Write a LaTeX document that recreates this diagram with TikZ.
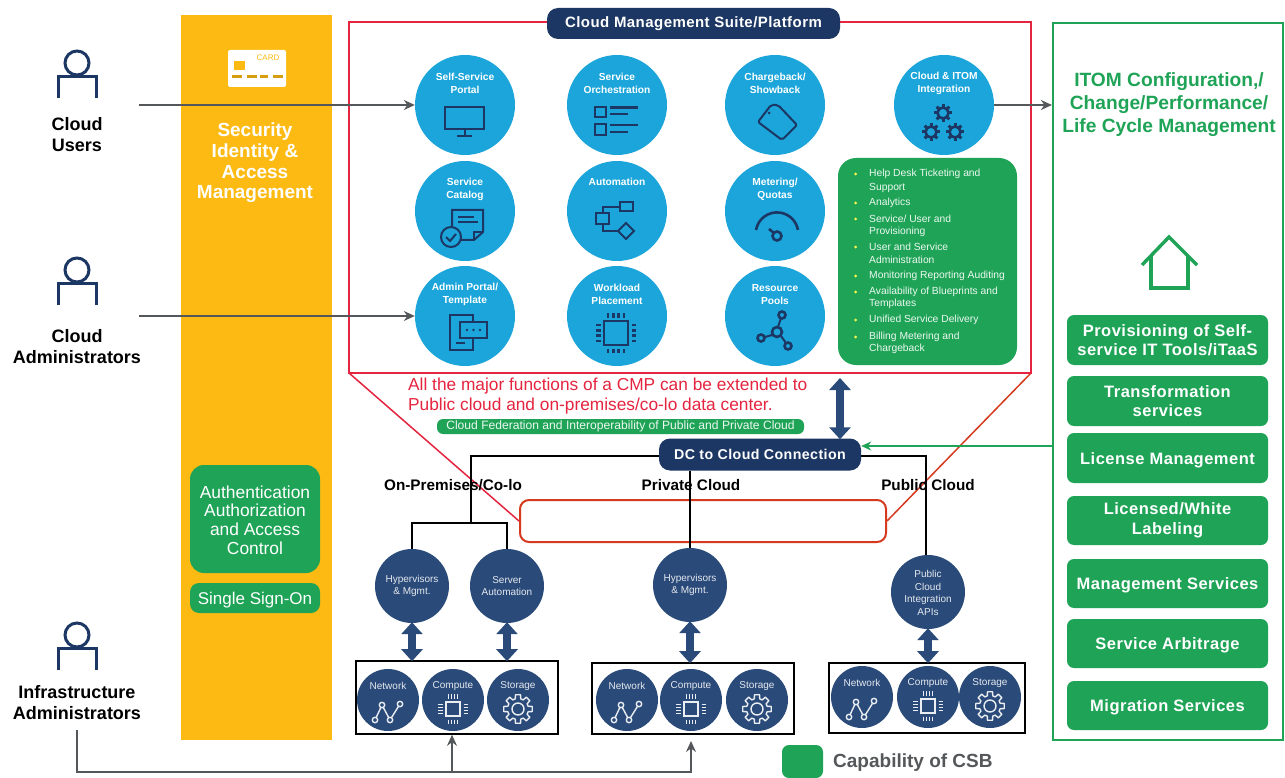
\documentclass[tikz,border=0pt]{standalone}
\usepackage{fontspec}
\setmainfont{Liberation Sans}
\newfontfamily\widefont[LetterSpace=3]{Liberation Sans}
\usetikzlibrary{arrows.meta,calc}
\definecolor{navy}{HTML}{1C3763}
\definecolor{steel}{HTML}{2A4A79}
\definecolor{skyc}{HTML}{1BA5DA}
\definecolor{csb}{HTML}{1FA457}
\definecolor{amber}{HTML}{FDBA12}
\definecolor{crim}{HTML}{E5243F}
\definecolor{brick}{HTML}{D63A1E}
\definecolor{grayl}{HTML}{55585A}
\newcommand{\fsz}[1]{\fontsize{#1}{#1}\selectfont}
\newcommand{\lowr}[1]{\raisebox{0pt}[12.5pt][0pt]{#1}}
\tikzset{
 svc/.style={circle,fill=skyc,inner sep=0pt,minimum size=100pt},
 svct/.style={text=white,font=\fsz{10.2}\bfseries,align=center,inner sep=0pt},
 dkt/.style={text=white!88!steel,font=\fsz{10},align=center,inner sep=0pt},
 ico/.style={draw=navy,line width=2pt,fill=none},
 icol/.style={draw=white!90!steel,line width=1.4pt,fill=none},
 gbox/.style={rounded corners=7pt,fill=csb,text=white,font=\widefont\fsz{16.5}\bfseries,align=center,inner sep=0pt,minimum width=201pt},
 actor/.style={font=\fsz{18}\bfseries,align=center,inner sep=0pt,text=black},
 graya/.style={draw=grayl,line width=1.3pt,-{Stealth[length=11pt,width=10pt]}},
 blk/.style={draw=black,line width=1.5pt},
 dbl/.style={draw=steel,line width=8pt,{Triangle[length=12pt,width=21pt]}-{Triangle[length=12pt,width=21pt]},shorten <=-1pt,shorten >=-1pt},
 rack/.style={draw=black,line width=1.6pt,fill=none,inner sep=0pt},
 lst/.style={anchor=west,text=white!92!csb,font=\fsz{10.3},inner sep=0pt},
}
\newcommand{\svcn}[4]{\node[svc] (#1) at (#2,#3) {}; \node[svct] (#1t) at (#2,#3-21.5) {#4};}
\newcommand{\person}[3]{\node[circle,draw=navy,line width=3pt,minimum size=24pt,inner sep=0pt] (#1) at (#2,#3) {};
 \draw[navy,line width=3pt] (#2-19,#3+35) -- (#2-19,#3+13.5) -- (#2+19,#3+13.5) -- (#2+19,#3+35);}
\newcommand{\gearf}[3]{\begin{scope}[shift={(#1,#2)}]
 \foreach \a in {0,45,...,315}{\draw[navy,line width=3pt] (\a:#3) -- (\a:#3+3.5);}
 \draw[navy,line width=2.6pt] (0,0) circle (#3);\end{scope}}
\newcommand{\gearo}[2]{\begin{scope}[shift={(#1,#2)}]
 \draw[icol,line join=round] (-10:14.5) \foreach \a in {0,45,...,315}{ -- (\a-10:14.5) -- (\a+10:14.5) -- (\a+15:10.5) -- (\a+30:10.5)} -- cycle;
 \draw[icol] (0,0) circle (6);\end{scope}}
\newcommand{\chip}[4]{\begin{scope}[shift={(#1,#2)}]
 \draw[#4] (-#3,-#3) rectangle (#3,#3);
 \foreach \k in {-0.66,-0.22,0.22,0.66}{
  \draw[#4] (\k*#3,-#3-3.5) -- (\k*#3,-#3-8);
  \draw[#4] (\k*#3, #3+3.5) -- (\k*#3, #3+8);
  \draw[#4] (-#3-3.5,\k*#3) -- (-#3-8,\k*#3);
  \draw[#4] ( #3+3.5,\k*#3) -- ( #3+8,\k*#3);}
 \end{scope}}
\newcommand{\netw}[2]{\begin{scope}[shift={(#1,#2)}]
 \draw[icol] (-13,10) -- (-6,-5) -- (2,10) -- (12,-6);
 \foreach \p in {(-13,10),(-6,-5),(2,10),(12,-6)}{\draw[icol,fill=steel] \p circle (2.7);}
 \end{scope}}
\newcommand{\trio}[5]{%
 \node[circle,fill=steel,inner sep=0pt,minimum width=62pt] (#1a) at (#2,#5) {};
 \node[circle,fill=steel,inner sep=0pt,minimum width=62pt] (#1b) at (#3,#5) {};
 \node[circle,fill=steel,inner sep=0pt,minimum width=62pt] (#1c) at (#4,#5) {};
 \node[dkt] (#1at) at (#2,#5-14) {Network};
 \node[dkt] (#1bt) at (#3,#5-14) {Compute};
 \node[dkt] (#1ct) at (#4,#5-14) {Storage};
 \netw{#2}{#5+10}
 \chip{#3}{#5+9}{7}{draw=white!90!steel,line width=1.1pt}
 \gearo{#4}{#5+9}
}
\begin{document}
\begin{tikzpicture}[x=1pt,y=-1pt]
\useasboundingbox (0,0) rectangle (1285,778);
\fill[white] (0,0) rectangle (1285,778);
% security column
\node[fill=amber,minimum width=151pt,minimum height=725pt,inner sep=0pt] (sec) at (256.5,377.5) {};
\node[fill=white,rounded corners=2pt,minimum width=58pt,minimum height=37pt,inner sep=0pt] (card) at (257,68.5) {};
\fill[amber] (234,61) rectangle (245,70);
\foreach \x/\w in {232/10,247/10,260/8,273/10}{\fill[amber!85!black] (\x,75.5) rectangle (\x+\w,78.5);}
\node[text=amber,font=\fsz{8},inner sep=0pt] (cardt) at (268,58) {CARD};
\node[text=white,font=\fsz{19}\bfseries,align=center,inner sep=0pt] (sect) at (255,163) {Security\\[1.7pt]Identity \&\\[1.7pt]Access\\[1.7pt]Management};
\node[fill=csb,rounded corners=14pt,minimum width=130pt,minimum height=108pt,inner sep=0pt,text=white,font=\fsz{17.4},align=center] (auth) at (255,519) {\raisebox{0pt}[15pt][0pt]{Authentication}\\[1.5pt]Authorization\\[1.5pt]and Access\\[1.5pt]Control};
\node[fill=csb,rounded corners=9pt,minimum width=130pt,minimum height=30pt,inner sep=0pt,text=white,font=\fsz{17}] (sso) at (255,598) {\raisebox{0pt}[12.5pt][0pt]{Single Sign-On}};
% red frame and funnel
\node[rounded corners=9pt,draw=brick,line width=2pt,minimum width=366pt,minimum height=42pt,inner sep=0pt] (ext) at (703,521) {};
\coordinate (fbl) at (349,373);
\coordinate (fbr) at (1031,373);
\draw[crim,line width=1.5pt] (fbl) -- (ext.west);
\draw[brick,line width=1.5pt] (fbr) -- (ext.east);
\node[draw=crim,line width=2pt,minimum width=682pt,minimum height=351pt,inner sep=0pt] (cmp) at (690,197.5) {};
\node[fill=navy,rounded corners=11pt,minimum width=293pt,minimum height=31pt,inner sep=0pt,text=white,font=\widefont\fsz{15}\bfseries] (cmpt) at (693.5,23.5) {Cloud Management Suite/Platform};
% service circles
\svcn{a1}{465}{105}{Self-Service\\[2.8pt]Portal}
\svcn{a2}{617}{105}{Service\\[2.8pt]Orchestration}
\svcn{a3}{775}{105}{Chargeback/\\[2.8pt]Showback}
\svcn{a4}{944}{105}{Cloud \& ITOM\\[2.8pt]Integration}
\svcn{b1}{465}{211}{Service\\[2.8pt]Catalog}
\node[svc] (b2) at (617,211) {}; \node[svct] (b2t) at (617,182) {Automation};
\svcn{b3}{775}{211}{Metering/\\[2.8pt]Quotas}
\svcn{c1}{465}{316}{Admin Portal/\\[2.8pt]Template}
\svcn{c2}{617}{316}{Workload\\[2.8pt]Placement}
\svcn{c3}{775}{316}{Resource\\[2.8pt]Pools}
% icons row 1
\draw[ico] (445,107) rectangle (484,129);
\draw[ico] (464.5,129) -- (464.5,136) (457,136) -- (472,136);
\draw[ico,line width=2.4pt] (595,107) rectangle (606,117) (595,124) rectangle (606,135);
\draw[ico,line width=2.2pt] (610,107.5) -- (638,107.5) (610,114) -- (628,114) (610,125) -- (638,125) (610,132) -- (628,132);
\draw[ico,rounded corners=2pt] (758,122) -- (771,105) -- (778,105) -- (797,125) -- (782,140) -- cycle;
\fill[navy] (769,113) circle (1.5);
\gearf{943}{113}{5.5}
\gearf{931}{132}{5.5}
\gearf{955}{132}{5.5}
% icons row 2
\draw[ico] (452,226) -- (452,210) -- (483,210) -- (483,232) -- (474,240) -- (461,240);
\draw[ico] (474,240) -- (474,232) -- (483,232);
\draw[ico] (458,217) -- (474,217) (458,222) -- (478,222);
\draw[ico,fill=skyc] (451,237) circle (10);
\draw[ico] (446,237) -- (450,241) -- (456,234);
\draw[ico] (620,202) rectangle (633,211);
\draw[ico] (596,213) rectangle (609,224);
\draw[ico] (603,213) -- (603,207) -- (620,207);
\draw[ico] (603,224) -- (603,231) -- (618,231);
\draw[ico] (626,223) -- (634,231) -- (626,239) -- (618,231) -- cycle;
\draw[ico,line width=2.6pt] (756,230) arc (190:350:21.3);
\draw[ico,line width=2.6pt] (769,229) -- (774,233);
\draw[ico,line width=2.6pt] (777,236) circle (4.5);
% icons row 3
\draw[ico] (473,322) -- (473,315) -- (450,315) -- (450,350) -- (473,350) -- (473,338);
\draw[ico] (456,343) -- (465,343);
\draw[ico,fill=skyc] (460,322) rectangle (487,338);
\foreach \x in {467,473.5,480}{\fill[navy] (\x,330) circle (1.4);}
\chip{616}{333}{12}{draw=navy,line width=2.4pt}
\draw[ico] (781,318) -- (778,327) (765,337) -- (772,335) (781,336) -- (786,343);
\draw[ico,line width=2.6pt] (777,332) circle (5) (782,315) circle (3.5) (761,338) circle (3.5) (788,346) circle (3.5);
% green list
\node[fill=csb,rounded corners=18pt,minimum width=179pt,minimum height=207pt,inner sep=0pt] (lst) at (927.5,261.5) {};
\foreach \yy/\txt in {174/Help Desk Ticketing and,188/Support,203/Analytics,219/{Service/ User and},232/Provisioning,247/User and Service,260/Administration,276/Monitoring Reporting Auditing,292/Availability of Blueprints and,304/Templates,320/Unified Service Delivery,337/Billing Metering and,349/Chargeback}{
 \node[lst] at (869,\yy) {\txt};}
\foreach \yy in {174,203,219,247,276,292,320,337}{\fill[yellow!70!white] (855.5,\yy) circle (1.5);}
% red text + federation
\node[anchor=west,text=crim,font=\fsz{17.3},inner sep=0pt] (rt1) at (408,386.5) {All the major functions of a CMP can be extended to};
\node[anchor=west,text=crim,font=\fsz{17.3},inner sep=0pt] (rt2) at (408,406.5) {Public cloud and on-premises/co-lo data center.};
\node[fill=csb,rounded corners=6pt,minimum width=367pt,minimum height=15pt,inner sep=0pt,text=white!92!csb,font=\fsz{12.1}] (fed) at (620.5,426.5) {Cloud Federation and Interoperability of Public and Private Cloud};
% DC connection
\node[fill=navy,rounded corners=11pt,minimum width=202pt,minimum height=32pt,inner sep=0pt,text=white,font=\widefont\fsz{14.2}\bfseries] (dc) at (760,454.5) {DC to Cloud Connection};
\coordinate (arrt) at (840,379);
\draw[dbl] (arrt) -- (arrt |- dc.north);
% upper dark circles
\node[circle,fill=steel,inner sep=0pt,minimum size=74pt] (h1) at (412,586) {};
\node[circle,fill=steel,inner sep=0pt,minimum size=74pt] (h2) at (507,586) {};
\node[circle,fill=steel,inner sep=0pt,minimum size=74pt] (h3) at (690,585) {};
\node[circle,fill=steel,inner sep=0pt,minimum size=74pt] (h4) at (928,592) {};
\node[dkt] (h1t) at (412,586) {Hypervisors\\[2pt]\& Mgmt.};
\node[dkt] (h2t) at (507,586) {Server\\[2pt]Automation};
\node[dkt] (h3t) at (690,585) {Hypervisors\\[2pt]\& Mgmt.};
\node[dkt] (h4t) at (928,593) {Public\\[2.5pt]Cloud\\[2.5pt]Integration\\[2.5pt]APIs};
% black tree
\coordinate (j1) at (471,523);
\coordinate (j0) at (471,456);
\coordinate (j3) at (926,456);
\draw[blk] (dc.west |- j0) -- (j0) -- (j1);
\draw[blk] (h1.north) -- (h1.north |- j1) -- (h2.north |- j1) -- (h2.north);
\draw[blk] (dc.south -| h3) -- (h3.north);
\draw[blk] (dc.east |- j3) -- (j3) -- (j3 |- h4.north);
% cloud labels
\node[font=\fsz{15.3}\bfseries,inner sep=0pt] (l1) at (453,485) {On-Premises/Co-lo};
\node[font=\fsz{15.3}\bfseries,inner sep=0pt] (l2) at (691,485) {Private Cloud};
\node[font=\fsz{15.3}\bfseries,inner sep=0pt] (l3) at (928,485) {Public Cloud};
% racks
\trio{r1}{388}{453}{518}{700}
\trio{r2}{627}{691}{757}{700}
\trio{r3}{862}{928}{990}{697}
\node[rack,minimum width=202pt,minimum height=73pt] (bx1) at (457,697.5) {};
\node[rack,minimum width=202pt,minimum height=71pt] (bx2) at (693,698.5) {};
\node[rack,minimum width=196pt,minimum height=70pt] (bx3) at (927,698) {};
\draw[dbl] (h1.south) -- (h1.south |- bx1.north);
\draw[dbl] (h2.south) -- (h2.south |- bx1.north);
\draw[dbl] (h3.south) -- (h3.south |- bx2.north);
\draw[dbl] (h4.south) -- (h4.south |- bx3.north);
% actors
\person{p1}{77}{63}
\person{p2}{77}{270}
\person{p3}{77}{635}
\node[actor] (p1t) at (77,134.5) {Cloud\\[3pt]Users};
\node[actor] (p2t) at (77,346.5) {Cloud\\[3pt]Administrators};
\node[actor] (p3t) at (77,702.5) {Infrastructure\\[3pt]Administrators};
\coordinate (u0) at (139,105);
\coordinate (v0) at (139,316);
\draw[graya] (u0) -- (a1.west);
\draw[graya] (v0) -- (c1.west);
\coordinate (inf) at (77,730);
\coordinate (bot) at (77,772);
\coordinate (j2) at (452,772);
\coordinate (j4) at (691,772);
\coordinate (j5) at (691,741);
\draw[graya] (inf) -- (bot) -- (j4) -- (j5);
\draw[graya] (j2) -- (j2 |- bx1.south);
% right panel
\node[draw=csb,line width=2.2pt,minimum width=230pt,minimum height=717pt,inner sep=0pt] (itom) at (1168,381.5) {};
\node[text=csb,font=\fsz{19.2}\bfseries,align=center,inner sep=0pt] (itomt) at (1169,105) {ITOM Configuration,/\\[3.8pt]Change/Performance/\\[3.8pt]Life Cycle Management};
\draw[csb,line width=3.4pt] (1142,265) -- (1169,237) -- (1197,265);
\draw[csb,line width=3.4pt] (1151,256) -- (1151,288) -- (1188,288) -- (1188,256);
\draw[graya] (a4.east) -- (itom.west |- a4.east);
\coordinate (gy) at (1000,446);
\draw[csb,line width=1.8pt,-{Stealth[length=10pt,width=9pt]}] (itom.west |- gy) -- (dc.east |- gy);
\node[gbox,minimum height=50pt] (g1) at (1167.5,340) {Provisioning of Self-\\[3pt]service IT Tools/iTaaS};
\node[gbox,minimum height=50pt] (g2) at (1167.5,401) {Transformation\\[3pt]services};
\node[gbox,minimum height=50pt] (g3) at (1167.5,458) {\lowr{License Management}};
\node[gbox,minimum height=49pt] (g4) at (1167.5,520.5) {Licensed/White\\[3pt]Labeling};
\node[gbox,minimum height=49pt] (g5) at (1167.5,583.5) {\lowr{Management Services}};
\node[gbox,minimum height=49pt] (g6) at (1167.5,643.5) {\lowr{Service Arbitrage}};
\node[gbox,minimum height=49pt] (g7) at (1167.5,705.5) {\lowr{Migration Services}};
% legend
\node[fill=csb,rounded corners=7pt,minimum width=41pt,minimum height=33pt,inner sep=0pt] (leg) at (802.5,761.5) {};
\node[anchor=west,text=grayl,font=\fsz{19}\bfseries,inner sep=0pt] (legt) at (833,763) {Capability of CSB};
\end{tikzpicture}
\end{document}
